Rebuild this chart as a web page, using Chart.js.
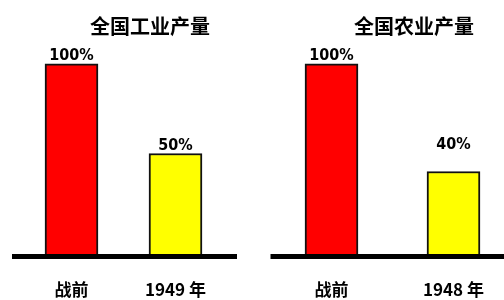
<!DOCTYPE html>
<html>
<head>
<meta charset="utf-8">
<script src="https://cdn.jsdelivr.net/npm/chart.js@4.4.0/dist/chart.umd.min.js"></script>
<style>
body{margin:0;background:#fff;}
#wrap{position:relative;width:504px;height:300px;overflow:hidden;}
canvas{position:absolute;top:0;}
.ttl{position:absolute;top:11px;line-height:24px;font:bold 20px 'Noto Sans CJK SC',sans-serif;transform:translateX(-50%);white-space:nowrap;color:#000;}
</style>
</head>
<body>
<div id="wrap">
  <canvas id="c1" width="252" height="300" style="left:0"></canvas>
  <canvas id="c2" width="280" height="300" style="left:252px"></canvas>
  <div class="ttl" id="t1" style="left:150px"></div>
  <div class="ttl" id="t2" style="left:414px"></div>
</div>
<script>
var industryTitle = '全国工业产量';
var industryCats = ['战前', '1949 年'];
var industryVals = [100, 50];

var farmTitle = '全国农业产量';
var farmCats = ['战前', '1948 年'];
var farmVals = [100, 40];

var barColors = ['#ff0000', '#ffff00'];

// scale floor sits a little below zero, like the original drawing
var YMIN = -6, YMAX = 130;

var barDecor = {
  id: 'barDecor',
  afterDatasetsDraw: function(chart, args, opts){
    var ctx = chart.ctx, area = chart.chartArea;
    var y = chart.scales.y.getPixelForValue(YMIN);
    ctx.save();
    ctx.fillStyle = '#000';
    ctx.fillRect(area.left - opts.extLeft, y, area.right - area.left + opts.extLeft + opts.extRight, 5);
    ctx.font = "bold 16px 'DejaVu Sans Condensed', 'Liberation Sans Narrow', sans-serif";
    ctx.textAlign = 'center';
    ctx.textBaseline = 'alphabetic';
    var meta = chart.getDatasetMeta(0);
    var vals = chart.data.datasets[0].data;
    meta.data.forEach(function(bar, i){
      ctx.fillText(vals[i] + '%', bar.x, bar.y - opts.gaps[i]);
    });
    ctx.restore();
  }
};

function makeChart(id, cats, vals, pad, deco){
  return new Chart(document.getElementById(id), {
    type: 'bar',
    data: {
      labels: cats,
      datasets: [{
        data: vals,
        base: YMIN,
        backgroundColor: barColors,
        borderColor: '#111',
        borderWidth: 2,
        barThickness: 53
      }]
    },
    options: {
      responsive: false,
      animation: false,
      layout: {padding: pad},
      plugins: {
        legend: {display: false},
        tooltip: {enabled: false},
        barDecor: deco
      },
      scales: {
        x: {
          grid: {display: false, drawTicks: false},
          border: {display: false},
          ticks: {
            color: '#000',
            padding: 27,
            maxRotation: 0,
            font: {family: "'Noto Sans CJK SC', sans-serif", size: 17, weight: 'bold', lineHeight: 1}
          }
        },
        y: {display: false, min: YMIN, max: YMAX}
      }
    },
    plugins: [barDecor]
  });
}

document.getElementById('t1').textContent = industryTitle;
document.getElementById('t2').textContent = farmTitle;

makeChart('c1', industryCats, industryVals, {left: 19.5, right: 24.5, top: 10, bottom: -25}, {extLeft: 7.5, extRight: 9.5, gaps: [4, 4]});
makeChart('c2', farmCats, farmVals, {left: 18.5, right: 17.5, top: 10, bottom: -25}, {extLeft: 0, extRight: 40, gaps: [4, 22]});
</script>
</body>
</html>
